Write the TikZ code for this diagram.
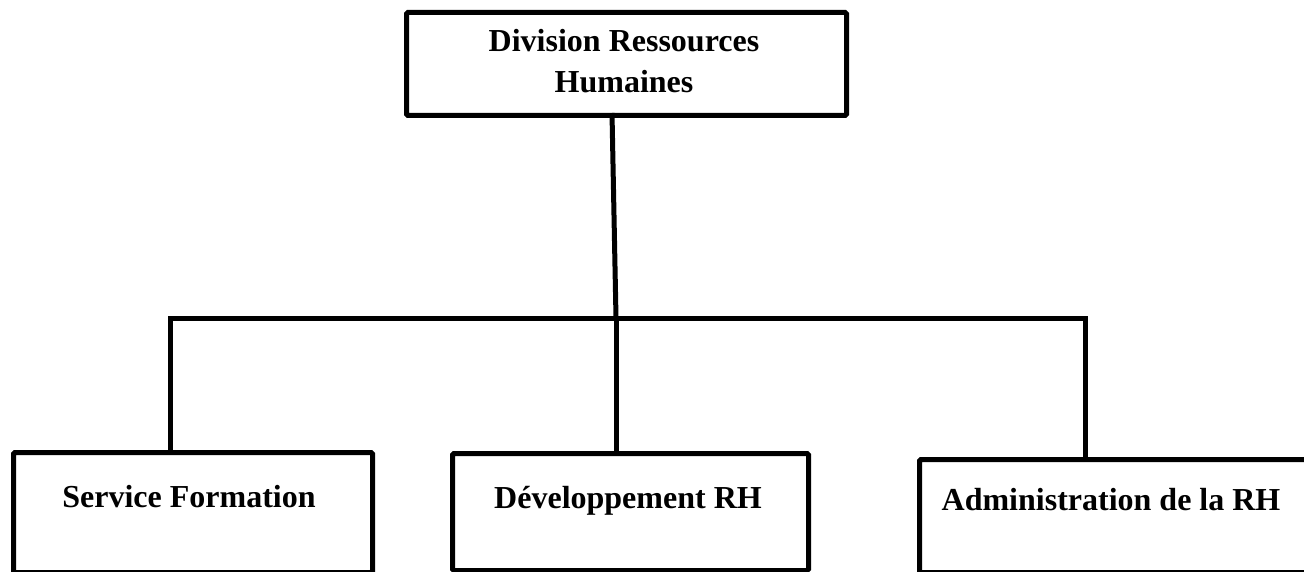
\documentclass[tikz,border=0pt]{standalone}
\usepackage{fontspec}
\setmainfont{Liberation Serif}
\begin{document}
\begin{tikzpicture}[x=1pt,y=-1pt,
  box/.style={draw=black, line width=5pt, rounded corners=1.5pt, rectangle,
              inner sep=0pt, anchor=north west},
  lbl/.style={font=\fontsize{32}{41}\selectfont\bfseries, anchor=base, inner sep=0pt},
  link/.style={draw=black, line width=5pt, line join=miter}]
\useasboundingbox (0,0) rectangle (1304,572);

% boxes
\node[box, minimum width=440pt, minimum height=103pt] (top) at (404,10) {};
\node[box, minimum width=359pt, minimum height=120pt] (sf)  at (11,450) {};
\node[box, minimum width=356pt, minimum height=117pt] (dev) at (450,451) {};
\node[box, minimum width=388pt, minimum height=113pt] (adm) at (917,457) {};

% labels
\node[lbl] (topA) at (624,52) {Division Ressources};
\node[lbl] (topB) at (624,93) {Humaines};
\node[lbl] (sfL)  at (189,507) {Service Formation};
\node[lbl] (devL) at (628,508) {Développement RH};
\node[lbl] (admL) at (1111,510) {Administration de la RH};

% connectors
\coordinate (stem) at (612,113);
\coordinate (busL) at (170,318);
\coordinate (busM) at (616,318);
\coordinate (busR) at (1085,318);
\draw[link] (stem) -- (busM);
\draw[link] (sf.north -| busL) -- (busL) -- (busR) -- (adm.north -| busR);
\draw[link] (busM) -- (dev.north -| busM);
\end{tikzpicture}
\end{document}
